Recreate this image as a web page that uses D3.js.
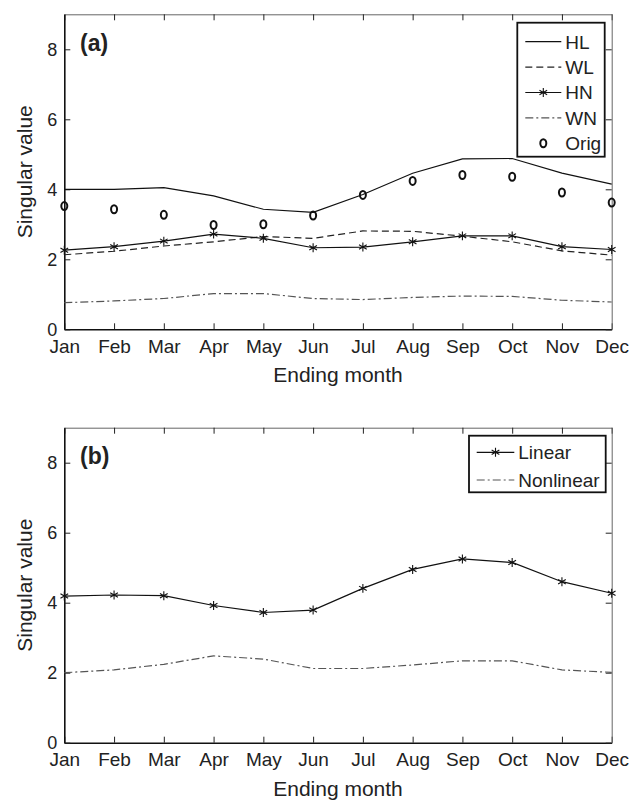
<!DOCTYPE html>
<html>
<head>
<meta charset="utf-8">
<script src="https://cdn.jsdelivr.net/npm/d3@7"></script>
<style>
body{margin:0;background:#fff;}
svg text{font-family:"Liberation Sans",Arial,sans-serif;fill:#222;}
</style>
</head>
<body>
<svg id="chart" width="630" height="801"></svg>
<script>
//Values
const months = ["Jan","Feb","Mar","Apr","May","Jun","Jul","Aug","Sep","Oct","Nov","Dec"];
const hlVals = [4.00,4.00,4.05,3.81,3.43,3.34,3.85,4.46,4.87,4.88,4.46,4.15];
const wlVals = [2.13,2.23,2.38,2.50,2.65,2.60,2.81,2.80,2.66,2.50,2.24,2.12];
const hnVals = [2.26,2.36,2.52,2.72,2.60,2.33,2.35,2.50,2.67,2.67,2.36,2.28];
const wnVals = [0.76,0.81,0.88,1.02,1.02,0.88,0.85,0.91,0.95,0.94,0.83,0.78];
const origVals = [3.52,3.43,3.27,2.98,3.00,3.25,3.84,4.24,4.41,4.36,3.91,3.62];
const linearVals = [4.19,4.22,4.20,3.92,3.72,3.79,4.41,4.95,5.25,5.15,4.60,4.27];
const nonlinearVals = [2.00,2.08,2.24,2.48,2.39,2.12,2.12,2.22,2.34,2.34,2.08,2.01];
const yTicks = [0,2,4,6,8];

const svg = d3.select("#chart");
const left = 64.3, right = 611.7;

const x = d3.scalePoint().domain(months).range([left,right]);
const starSym = d3.symbol().type(d3.symbolAsterisk || d3.symbolCross).size(55);

//line styles
const styles = {
    solid:{dash:null,color:"#111"},
    dash:{dash:"7,4",color:"#222"},
    dashdot:{dash:"8,3,2,3",color:"#555"}
};

function drawPanel(top,bottom,label,series,legend){
    const y = d3.scaleLinear().domain([0,9]).range([bottom,top]);
    const g = svg.append("g");

    //Bottom axis with month labels
    const xb = g.append("g")
        .attr("transform","translate(0,"+bottom+")")
        .call(d3.axisBottom(x).tickSizeInner(-6).tickSizeOuter(0).tickPadding(10));
    xb.selectAll("text").style("font-size","19px");

    //Top axis, ticks only
    g.append("g")
        .attr("class","thin")
        .attr("transform","translate(0,"+top+")")
        .call(d3.axisTop(x).tickSizeInner(-6).tickSizeOuter(0).tickFormat(""));

    //Left axis
    const yl = g.append("g")
        .attr("transform","translate("+left+",0)")
        .call(d3.axisLeft(y).tickValues(yTicks).tickSizeInner(-6).tickSizeOuter(0).tickPadding(7));
    yl.selectAll("text").style("font-size","18px").attr("dy","0.33em");

    //Right axis, ticks only
    g.append("g")
        .attr("class","thin")
        .attr("transform","translate("+right+",0)")
        .call(d3.axisRight(y).tickValues(yTicks).tickSizeInner(-6).tickSizeOuter(0).tickFormat(""));

    g.selectAll(".domain").attr("stroke","#111").attr("stroke-width",1.6);
    g.selectAll(".thin .domain").attr("stroke","#666").attr("stroke-width",1);
    g.selectAll(".tick line").attr("stroke","#222");

    //Labels
    g.append("text")
        .attr("x",(left+right)/2)
        .attr("y",bottom+53)
        .attr("text-anchor","middle")
        .style("font-size","21px")
        .text("Ending month");

    g.append("text")
        .attr("text-anchor","middle")
        .attr("transform","translate(32,"+((top+bottom)/2)+")rotate(-90)")
        .style("font-size","21px")
        .text("Singular value");

    g.append("text")
        .attr("x",80)
        .attr("y",top+36.5)
        .style("font-size","23px")
        .style("font-weight","bold")
        .text(label);

    //Series
    const line = d3.line().x((d,i)=>x(months[i])).y(d=>y(d));
    series.forEach(function(s){
        const st = styles[s.style];
        if(s.style){
            g.append("path")
                .datum(s.values)
                .attr("d",line)
                .attr("fill","none")
                .attr("stroke",st.color)
                .attr("stroke-width",1.2)
                .attr("stroke-dasharray",st.dash);
        }
        if(s.marker==="star"){
            g.selectAll(null)
                .data(s.values)
                .enter()
                .append("path")
                .attr("d",starSym)
                .attr("transform",(d,i)=>"translate("+x(months[i])+","+y(d)+")")
                .attr("fill","none")
                .attr("stroke","#111")
                .attr("stroke-width",1.1);
        }
        if(s.marker==="circle"){
            g.selectAll(null)
                .data(s.values)
                .enter()
                .append("ellipse")
                .attr("cx",(d,i)=>x(months[i]))
                .attr("cy",d=>y(d))
                .attr("rx",3)
                .attr("ry",4)
                .attr("fill","none")
                .attr("stroke","#111")
                .attr("stroke-width",2);
        }
    });

    //Legend
    const lg = g.append("g");
    lg.append("rect")
        .attr("x",legend.x)
        .attr("y",legend.y)
        .attr("width",legend.w)
        .attr("height",legend.h)
        .attr("fill","#fff")
        .attr("stroke","#111")
        .attr("stroke-width",1.8);

    series.forEach(function(s,i){
        const ry = legend.y + legend.first + i*legend.step;
        const x0 = legend.x + legend.pad, x1 = x0 + legend.len;
        if(s.style){
            const st = styles[s.style];
            lg.append("line")
                .attr("x1",x0).attr("x2",x1)
                .attr("y1",ry).attr("y2",ry)
                .attr("stroke",st.color)
                .attr("stroke-width",1.2)
                .attr("stroke-dasharray",st.dash);
        }
        if(s.marker==="star"){
            lg.append("path")
                .attr("d",starSym)
                .attr("transform","translate("+((x0+x1)/2)+","+ry+")")
                .attr("fill","none")
                .attr("stroke","#111")
                .attr("stroke-width",1.1);
        }
        if(s.marker==="circle"){
            lg.append("ellipse")
                .attr("cx",(x0+x1)/2)
                .attr("cy",ry)
                .attr("rx",3)
                .attr("ry",4)
                .attr("fill","none")
                .attr("stroke","#111")
                .attr("stroke-width",2);
        }
        lg.append("text")
            .attr("x",x1+4)
            .attr("y",ry)
            .attr("dy","0.36em")
            .style("font-size","19px")
            .text(s.name);
    });
}

//Panel (a)
drawPanel(14.3,329.3,"(a)",[
    {name:"HL",values:hlVals,style:"solid"},
    {name:"WL",values:wlVals,style:"dash"},
    {name:"HN",values:hnVals,style:"solid",marker:"star"},
    {name:"WN",values:wnVals,style:"dashdot"},
    {name:"Orig",values:origVals,style:null,marker:"circle"}
],{x:517.3,y:22.7,w:87.4,h:134,pad:8,len:36,first:19,step:25.4});

//Panel (b)
drawPanel(427.7,742.7,"(b)",[
    {name:"Linear",values:linearVals,style:"solid",marker:"star"},
    {name:"Nonlinear",values:nonlinearVals,style:"dashdot"}
],{x:469,y:435.7,w:136.7,h:56.6,pad:7.7,len:37.6,first:16.6,step:27.7});
</script>
</body>
</html>
